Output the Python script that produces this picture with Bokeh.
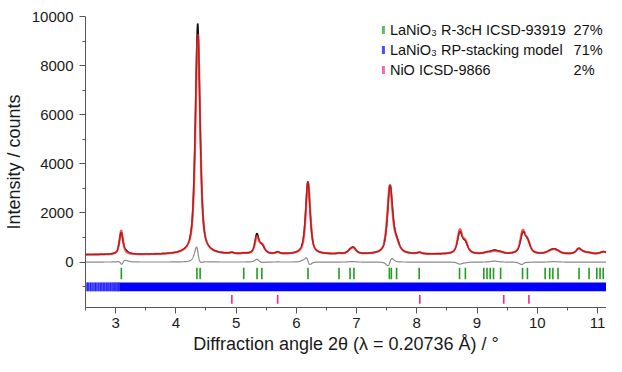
import numpy as np
from bokeh.plotting import figure
from bokeh.models import Range1d, FixedTicker
from bokeh.core.properties import value
from bokeh.embed import file_html
from bokeh.resources import INLINE

# ---------------- data ----------------
# reflection profile table: position (2theta, deg), FWHM, observed height, calculated height, calc shift
peak_pos   = [3.090, 3.135, 4.363, 4.930, 5.130, 5.345, 5.430, 5.690, 6.100, 6.192, 6.710, 6.890, 6.950,
              7.557, 7.660, 8.045, 8.715, 8.805, 9.170, 9.290, 9.395, 9.762, 9.840, 10.210, 10.280,
              10.345, 10.690, 10.780, 10.870, 11.100]
peak_fwhm  = [0.068, 0.130, 0.092, 0.080, 0.080, 0.080, 0.105, 0.080, 0.065, 0.088, 0.080, 0.105, 0.105,
              0.100, 0.120, 0.080, 0.095, 0.105, 0.130, 0.140, 0.120, 0.100, 0.105, 0.140, 0.140,
              0.120, 0.105, 0.120, 0.105, 0.130]
obs_height = [790, 150, 9400, 45, 25, 760, 310, 75, 45, 2950, 25, 110, 230,
              2730, 400, 55, 840, 410, 55, 140, 55, 790, 430, 75, 150,
              55, 215, 55, 35, 95]
calc_height = [950, 30, 8960, 45, 25, 640, 340, 70, 0, 2900, 25, 100, 215,
               2730, 400, 55, 920, 430, 55, 100, 55, 870, 440, 75, 130,
               55, 215, 55, 35, 95]
calc_shift = [0.003, 0, 0.002, 0, 0, 0, 0, 0, 0, 0.003, 0, 0, 0,
              -0.004, 0, 0, 0, 0, 0, 0, 0, -0.003, 0, 0, 0,
              0, 0, 0, 0, 0]
background_x = [2.5, 11.15]
background_y = [300, 320]

# Bragg reflection markers
r3c_ticks = [3.095, 4.350, 4.403, 5.127, 5.348, 5.428, 6.194, 6.709, 6.892, 6.957, 7.545, 7.578, 7.665,
             8.040, 8.710, 8.807, 9.113, 9.166, 9.219, 9.274, 9.392, 9.756, 9.837, 10.131, 10.207,
             10.260, 10.345, 10.694, 10.860, 10.989, 11.043, 11.096]
rp_ticks = [2.500, 2.530, 2.555, 2.585, 2.610, 2.640, 2.665, 2.690, 2.720, 2.745, 2.770, 2.795, 2.820,
            2.845, 2.870, 2.890, 2.915, 2.940, 2.960, 2.985, 3.005, 3.025, 3.045, 3.060]
rp_dense_from = 3.07
nio_ticks = [4.930, 5.690, 8.050, 9.444, 9.862]

phase_names = ["LaNiO\u2083 R-3cH ICSD-93919", "LaNiO\u2083 RP-stacking model", "NiO ICSD-9866"]
phase_fracs = ["27%", "71%", "2%"]

x_major = [3, 4, 5, 6, 7, 8, 9, 10, 11]
x_minor = [2.5, 3.5, 4.5, 5.5, 6.5, 7.5, 8.5, 9.5, 10.5, 11.5]
y_major = [0, 2000, 4000, 6000, 8000, 10000]
y_minor = [-1000, 1000, 3000, 5000, 7000, 9000]

# ---------------- build profiles ----------------
X0, X1 = 2.50, 11.15
Y0, Y1 = -1850, 10000
x = np.linspace(X0, 11.2, 4000)


def pv(xx, x0, h, w, eta=0.65):
    d = (xx - x0) / (w / 2.0)
    return h * (eta / (1 + d * d) + (1 - eta) * np.exp(-np.log(2) * d * d))


bg = np.interp(x, background_x, background_y)
obs = bg.copy()
calc = bg.copy()
for pos, w, ho, hc, sh in zip(peak_pos, peak_fwhm, obs_height, calc_height, calc_shift):
    obs += pv(x, pos, ho, w)
    calc += pv(x, pos + sh, hc, w)
diff = obs - calc

# ---------------- figure ----------------
FRAME_L, FRAME_W, FRAME_T, FRAME_H = 84, 522, 16, 291

p = figure(width=606, height=356, x_range=Range1d(X0, X1), y_range=Range1d(Y0, Y1),
           output_backend="svg", toolbar_location=None,
           min_border_left=FRAME_L, min_border_right=0, min_border_top=FRAME_T,
           min_border_bottom=356 - FRAME_T - FRAME_H)
p.outline_line_color = None
p.xgrid.visible = False
p.ygrid.visible = False
p.background_fill_color = "white"
p.border_fill_color = "white"

p.line(x, obs, line_color="#111111", line_width=1.5)
p.line(x, calc, line_color="#ff2020", line_width=2.2, line_alpha=0.72)
p.line(x, diff, line_color="#8a8a8a", line_width=1.2)

green = "#1f9e1f"
blue = "#0000ff"
pink = "#f0288a"

p.segment(x0=r3c_ticks, y0=[-230] * len(r3c_ticks), x1=r3c_ticks, y1=[-700] * len(r3c_ticks),
          line_color=green, line_width=1.6)
p.quad(left=[X0], right=[rp_dense_from], bottom=[-1190], top=[-830], fill_color="#8c8cff",
       line_color=None)
p.segment(x0=rp_ticks, y0=[-830] * len(rp_ticks), x1=rp_ticks, y1=[-1190] * len(rp_ticks),
          line_color="#2020ff", line_width=1.2)
p.quad(left=[rp_dense_from], right=[11.2], bottom=[-1190], top=[-830], fill_color=blue,
       line_color=None)
p.segment(x0=nio_ticks, y0=[-1340] * len(nio_ticks), x1=nio_ticks, y1=[-1700] * len(nio_ticks),
          line_color=pink, line_width=1.6)


def dx(px):
    return X0 + (px - FRAME_L) * (X1 - X0) / FRAME_W


def dy(py):
    return Y1 - (py - FRAME_T) * (Y1 - Y0) / FRAME_H


# legend (manual)
sw_colors = [green, blue, pink]
row_y = [29.5, 49.5, 69.5]
p.segment(x0=[dx(382.5)] * 3, x1=[dx(382.5)] * 3,
          y0=[dy(r - 4) for r in row_y], y1=[dy(r + 4) for r in row_y],
          line_color=sw_colors, line_width=3, line_alpha=0.7)
p.text(x=[dx(389)] * 3, y=[dy(r) for r in row_y], text=phase_names,
       text_font=value("Liberation Sans"), text_font_size="14.5px", text_baseline="middle",
       text_align="left", text_color="#111111")
p.text(x=[dx(573)] * 3, y=[dy(r) for r in row_y], text=phase_fracs,
       text_font=value("Liberation Sans"), text_font_size="14.5px", text_baseline="middle",
       text_align="left", text_color="#111111")

# axes
p.xaxis.ticker = FixedTicker(ticks=x_major, minor_ticks=x_minor)
p.yaxis.ticker = FixedTicker(ticks=y_major, minor_ticks=y_minor)
p.xaxis.axis_label = "Diffraction angle 2\u03b8 (\u03bb = 0.20736 \u00c5) / \u00b0"
p.yaxis.axis_label = "Intensity / counts"
for ax in (p.xaxis[0], p.yaxis[0]):
    ax.axis_line_color = "#555555"
    ax.major_tick_line_color = "#555555"
    ax.minor_tick_line_color = "#555555"
    ax.major_tick_out = 6
    ax.major_tick_in = 0
    ax.minor_tick_out = 3
    ax.minor_tick_in = 0
    ax.major_label_text_font = "Liberation Sans"
    ax.major_label_text_font_size = "15px"
    ax.major_label_text_color = "#1a1a1a"
    ax.axis_label_text_font = "Liberation Sans"
    ax.axis_label_text_font_size = "18px"
    ax.axis_label_text_font_style = "normal"
    ax.axis_label_text_color = "#1a1a1a"
p.xaxis.major_label_standoff = 4
p.xaxis.axis_label_standoff = 3
p.yaxis.major_label_standoff = 6
p.yaxis.axis_label_standoff = 5

open("out.html", "w").write(file_html(p, INLINE))
